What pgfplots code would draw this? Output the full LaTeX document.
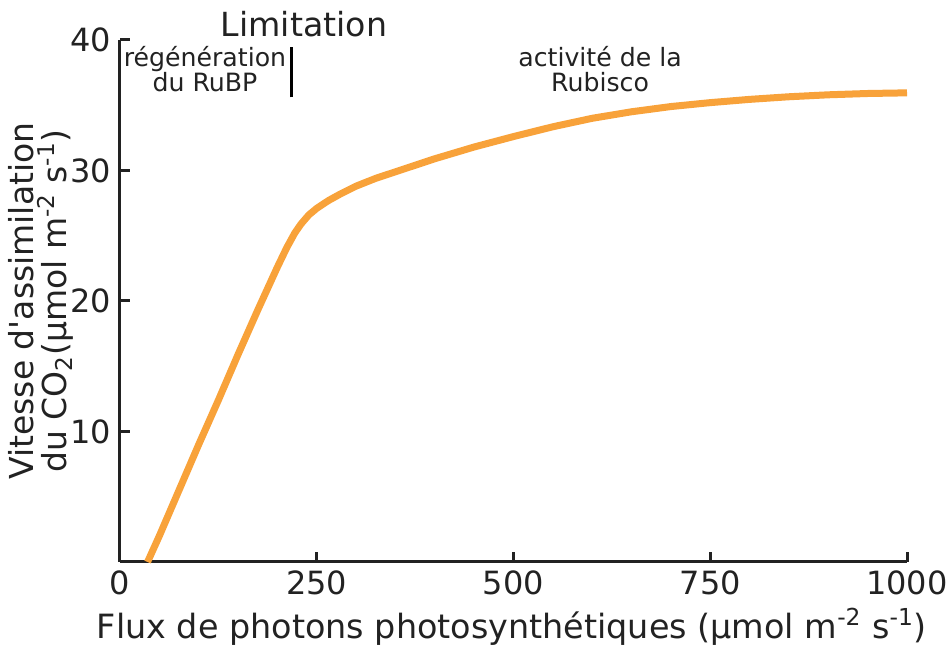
\documentclass[border=0pt]{standalone}
\usepackage{pgfplots}
\pgfplotsset{compat=1.18}
\usepackage{fontspec}
\setmainfont{DejaVu Sans}
\definecolor{curve}{HTML}{F8A23A}
\definecolor{axc}{HTML}{222222}
\begin{document}
\begin{tikzpicture}
\begin{axis}[
  at={(0,0)}, anchor=south west,
  scale only axis, width=393.5pt, height=261pt,
  xmin=0, xmax=1000, ymin=0, ymax=40,
  axis lines=left,
  axis line style={line width=1.5pt, color=axc, -},
  xtick={0,250,500,750,1000},
  ytick={10,20,30,40},
  tick align=inside,
  major tick length=5pt,
  tick style={line width=1.5pt, color=axc},
  /pgf/number format/assume math mode=true,
  /pgf/number format/1000 sep={},
  ticklabel style={font=\fontsize{16}{18}\selectfont, text=axc},
  xticklabel style={yshift=-1pt},
  yticklabel style={xshift=-1pt},
  xlabel={Flux de photons photosynthétiques (µmol m\textsuperscript{-2} s\textsuperscript{-1})},
  xlabel style={font=\fontsize{16.7}{19}\selectfont, text=axc, at={(axis description cs:0.498,0)}, anchor=center, yshift=-32.5pt},
  ylabel={Vitesse d\textquotesingle assimilation\\du CO\textsubscript{2}(µmol m\textsuperscript{-2} s\textsuperscript{-1})},
  ylabel style={font=\fontsize{16.5}{16.5}\selectfont, text=axc, align=center, at={(axis description cs:-0.1,0.5)}, anchor=center},
  clip=false,
]
\addplot[color=curve, line width=3.5pt, line join=round] coordinates {
(35,0) (50,2.0) (75,5.5) (100,9.0) (125,12.4) (150,15.9) (175,19.3) (200,22.6)
(212,24.1) (222,25.2) (230,25.9) (240,26.6) (250,27.1) (265,27.7) (280,28.2) (300,28.8)
(325,29.4) (350,29.9) (400,30.9) (450,31.8) (500,32.6) (550,33.35) (600,34.0)
(650,34.5) (700,34.9) (750,35.2) (800,35.45) (850,35.65) (900,35.8) (950,35.9) (1000,35.95)
};
\addplot[color=black, line width=1.5pt] coordinates {(218.5,35.6) (218.5,39.5)};
\node[font=\fontsize{16.6}{18}\selectfont, text=axc] at (axis cs:233.8,41.2) {Limitation};
\node[font=\fontsize{12.6}{12.5}\selectfont, text=axc, align=center] at (axis cs:108,37.75) {régénération\\du RuBP};
\node[font=\fontsize{12.6}{12.5}\selectfont, text=axc, align=center] at (axis cs:610,37.75) {activité de la\\Rubisco};
\end{axis}
\pgfresetboundingbox
\useasboundingbox (-60pt,-42pt) rectangle (413pt,281pt);
\end{tikzpicture}
\end{document}
